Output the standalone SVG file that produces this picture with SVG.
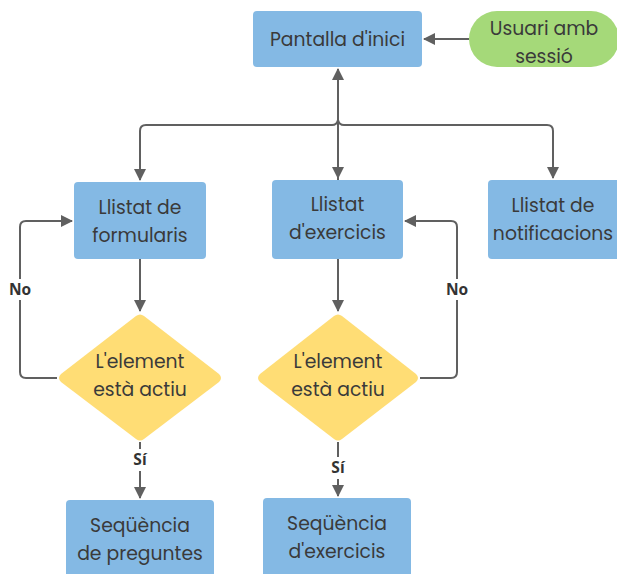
<svg xmlns="http://www.w3.org/2000/svg" width="617" height="574" viewBox="0 0 617 574">
<style>
.box{fill:#84B9E4}
.pill{fill:#A5D979}
.dia{fill:#FFDD75}
.t{font-family:"Poppins","Open Sans","Liberation Sans",sans-serif;font-size:18.8px;fill:#3a3a3a;text-anchor:middle}
.lb{font-family:"Open Sans","Liberation Sans",sans-serif;font-size:15.5px;font-weight:bold;fill:#333;text-anchor:middle}
.ln{fill:none;stroke:#606060;stroke-width:2;stroke-linejoin:round}
</style>
<defs>
<marker id="ah" markerWidth="12" markerHeight="12" refX="11" refY="6" orient="auto" markerUnits="userSpaceOnUse">
<path d="M0,0 L12,6 L0,12 Z" fill="#606060"/>
</marker>
</defs>
<rect width="617" height="574" fill="#ffffff"/>
<g id="connectors">
<path class="ln" d="M469,39 H424" marker-end="url(#ah)"/>
<path class="ln" d="M338,180 V69" marker-end="url(#ah)"/>
<path class="ln" d="M338,125 V178" marker-end="url(#ah)"/>
<path class="ln" d="M140,180 V131 Q140,125 146,125 H332 Q337,125 338,120 M338,120 Q339,125 344,125 H547 Q553,125 553,131 V178" />
<path class="ln" d="M140,131 V180" marker-end="url(#ah)"/>
<path class="ln" d="M553,131 V178" marker-end="url(#ah)"/>
<path class="ln" d="M140,259 V311" marker-end="url(#ah)"/>
<path class="ln" d="M338,259 V311" marker-end="url(#ah)"/>
<path class="ln" d="M57,378 H26 Q20,378 20,372 V300 M20,279 V227 Q20,221 26,221 H72" marker-end="url(#ah)"/>
<path class="ln" d="M420,378 H451 Q457,378 457,372 V300 M457,279 V227 Q457,221 451,221 H405" marker-end="url(#ah)"/>
<path class="ln" d="M140,442 V449 M140,471 V498" marker-end="url(#ah)"/>
<path class="ln" d="M338,442 V457 M338,479 V496" marker-end="url(#ah)"/>
<text class="lb" x="20" y="295">No</text>
<text class="lb" x="457" y="295">No</text>
<text class="lb" x="140" y="465">Sí</text>
<text class="lb" x="338" y="473">Sí</text>
</g>
<g id="pantalla">
<rect class="box" x="253" y="11" width="169" height="56" rx="4"/>
<text class="t" x="337.5" y="45.5">Pantalla d'inici</text>
</g>
<g id="usuari">
<rect class="pill" x="469" y="11" width="150" height="56" rx="28"/>
<text class="t" x="544" y="34.5">Usuari amb</text>
<text class="t" x="544" y="62.5">sessió</text>
</g>
<g id="formularis">
<rect class="box" x="74" y="182" width="132" height="77" rx="4"/>
<text class="t" x="140" y="213.5">Llistat de</text>
<text class="t" x="140" y="241.5">formularis</text>
</g>
<g id="exercicis">
<rect class="box" x="272" y="180" width="131" height="79" rx="4"/>
<text class="t" x="337.5" y="210.5">Llistat</text>
<text class="t" x="337.5" y="238.5">d'exercicis</text>
</g>
<g id="notificacions">
<rect class="box" x="488" y="180" width="132" height="79" rx="4"/>
<text class="t" x="553" y="211.5">Llistat de</text>
<text class="t" x="553" y="239.5">notificacions</text>
</g>
<g id="decisio1">
<path class="dia" d="M136,316 Q140,313 144,316 L219,374 Q223,378 219,382 L144,439 Q140,442 136,439 L61,382 Q57,378 61,374 Z"/>
<text class="t" x="140" y="367.5">L'element</text>
<text class="t" x="140" y="395.5">està actiu</text>
</g>
<g id="decisio2">
<path class="dia" d="M334,316 Q338,313 342,316 L416,374 Q420,378 416,382 L342,439 Q338,442 334,439 L260,382 Q256,378 260,374 Z"/>
<text class="t" x="338" y="367.5">L'element</text>
<text class="t" x="338" y="395.5">està actiu</text>
</g>
<g id="preguntes">
<rect class="box" x="66" y="500" width="148" height="80" rx="4"/>
<text class="t" x="140" y="531.5">Seqüència</text>
<text class="t" x="140" y="559.5">de preguntes</text>
</g>
<g id="seqexercicis">
<rect class="box" x="263" y="498" width="148" height="82" rx="4"/>
<text class="t" x="337" y="529.5">Seqüència</text>
<text class="t" x="337" y="557.5">d'exercicis</text>
</g>
</svg>
